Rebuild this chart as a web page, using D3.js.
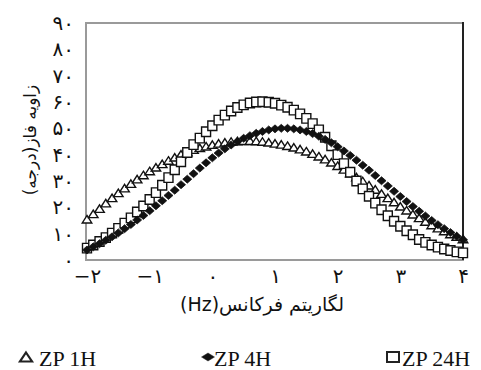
<!DOCTYPE html>
<html>
<head>
<meta charset="utf-8">
<script src="https://cdn.jsdelivr.net/npm/d3@7"></script>
<style>
  html, body { margin: 0; padding: 0; background: #fff; }
  svg { display: block; }
</style>
</head>
<body>
<svg id="chart" width="481" height="370"></svg>
<script>
// log10 of frequency (Hz), one sample every 0.1 decade
const logFreq = d3.range(-20, 41).map(i => i / 10);

// phase angle (degrees) for each coating time
const zp1H = [
  15.5, 17.5, 19.5, 21.6, 23.6, 25.5, 27.3, 29.0, 30.7, 32.3,
  33.8, 35.2, 36.5, 37.8, 39.0, 40.1, 41.0, 41.9, 42.6, 43.2,
  43.8, 44.3, 44.7, 45.0, 45.2, 45.3, 45.3, 45.2, 45.0, 44.7,
  44.3, 43.9, 43.4, 42.8, 42.1, 41.3, 40.4, 39.4, 38.3, 37.1,
  35.8, 34.4, 33.0, 31.5, 30.0, 28.4, 26.8, 25.2, 23.6, 22.0,
  20.4, 18.9, 17.4, 16.0, 14.6, 13.3, 12.1, 11.0, 9.9, 8.9,
  8.0
];
const zp4H = [
  3.8, 5.0, 6.2, 7.5, 8.8, 10.3, 11.9, 13.5, 15.2, 16.9,
  18.7, 20.6, 22.5, 24.5, 26.5, 28.6, 30.7, 32.8, 34.9, 36.9,
  38.8, 40.6, 42.2, 43.7, 45.0, 46.2, 47.2, 48.1, 48.8, 49.4,
  49.8, 50.0, 50.0, 49.8, 49.4, 48.8, 48.0, 47.0, 45.8, 44.5,
  43.0, 41.4, 39.7, 37.9, 36.0, 34.1, 32.1, 30.1, 28.1, 26.1,
  24.1, 22.2, 20.3, 18.5, 16.7, 15.0, 13.4, 11.9, 10.4, 9.0,
  7.7
];
const zp24H = [
  4.5, 5.7, 7.0, 8.5, 10.2, 12.0, 14.0, 16.0, 18.2, 20.5,
  23.0, 25.6, 28.4, 31.3, 34.3, 37.3, 40.8, 43.8, 46.3, 48.7,
  51.0, 53.1, 55.0, 56.6, 57.9, 58.9, 59.6, 60.0, 60.1, 59.9,
  59.5, 58.8, 58.0, 56.9, 55.5, 53.8, 51.8, 49.4, 46.6, 43.4,
  40.0, 36.6, 33.3, 30.0, 27.0, 24.2, 21.6, 19.1, 16.8, 14.7,
  12.8, 11.1, 9.6, 7.8, 6.7, 5.7, 4.9, 4.2, 3.6, 3.1,
  2.7
];

const seriesNames = ["ZP 1H", "ZP 4H", "ZP 24H"];
const xTicks = [-2, -1, 0, 1, 2, 3, 4];
const yTicks = [0, 10, 20, 30, 40, 50, 60, 70, 80, 90];
const xTitle = "لگاریتم فرکانس(Hz)";
const yTitle = "زاویه فاز(درجه)";

const persianDigits = "۰۱۲۳۴۵۶۷۸۹";
const toPersian = v => (v < 0 ? "−" : "") +
  String(Math.abs(v)).replace(/\d/g, d => persianDigits[+d]);

const svg = d3.select("#chart");
const plot = { left: 86, top: 23, right: 463, bottom: 260 };

const x = d3.scaleLinear().domain([-2, 4]).range([87, 463]);
const y = d3.scaleLinear().domain([0, 90]).range([plot.bottom, plot.top]);

const persianFont = "'DejaVu Sans', sans-serif";

// frame
svg.append("rect")
  .attr("x", plot.left).attr("y", plot.top)
  .attr("width", plot.right - plot.left).attr("height", plot.bottom - plot.top)
  .attr("fill", "none").attr("stroke", "#9a9a9a").attr("stroke-width", 2);
svg.append("line")
  .attr("x1", plot.right).attr("x2", plot.right)
  .attr("y1", plot.top - 1).attr("y2", plot.bottom)
  .attr("stroke", "#222").attr("stroke-width", 2);

// y axis labels
const yAxis = d3.axisLeft(y).tickValues(yTicks).tickSize(0).tickPadding(12)
  .tickFormat(toPersian);
svg.append("g").attr("transform", `translate(${plot.left},0)`).call(yAxis)
  .call(g => g.select(".domain").remove())
  .call(g => g.selectAll("text").attr("font-family", persianFont)
    .attr("font-size", 20).attr("fill", "#111"));

// x axis labels
const xAxis = d3.axisBottom(x).tickValues(xTicks).tickSize(0).tickPadding(9)
  .tickFormat(toPersian);
svg.append("g").attr("transform", `translate(0,${plot.bottom})`).call(xAxis)
  .call(g => g.select(".domain").remove())
  .call(g => g.selectAll("text").attr("font-family", persianFont)
    .attr("font-size", 20).attr("fill", "#111"));

// axis titles
svg.append("text")
  .attr("x", 262).attr("y", 311)
  .attr("text-anchor", "middle").attr("direction", "rtl")
  .attr("font-family", persianFont).attr("font-size", 19).attr("fill", "#111")
  .text(xTitle);
svg.append("text")
  .attr("transform", "translate(36,140) rotate(-90)")
  .attr("text-anchor", "middle").attr("direction", "rtl")
  .attr("font-family", persianFont).attr("font-size", 17).attr("fill", "#111")
  .text(yTitle);

// marker shapes
const triPath = (w, h) => `M0,${-h / 2}L${w / 2},${h / 2}L${-w / 2},${h / 2}Z`;
const diaPath = (w, h) => `M0,${-h / 2}L${w / 2},0L0,${h / 2}L${-w / 2},0Z`;
const sqPath = (w, h) => `M${-w / 2},${-h / 2}h${w}v${h}h${-w}Z`;

function drawSeries(values, path, fill, strokeWidth) {
  svg.append("g").selectAll("path")
    .data(values.map((v, i) => [logFreq[i], v]))
    .join("path")
    .attr("transform", d => `translate(${x(d[0])},${y(d[1])})`)
    .attr("d", path)
    .attr("fill", fill)
    .attr("stroke", "#111")
    .attr("stroke-width", strokeWidth);
}

drawSeries(zp1H, triPath(9.5, 7.5), "#fff", 1.4);
drawSeries(zp24H, sqPath(9, 9.5), "#fff", 1.4);
drawSeries(zp4H, diaPath(9, 8), "#111", 0.8);

// legend
const legend = [
  { name: seriesNames[0], cx: 26, path: triPath(12, 9), fill: "#fff", sw: 2.2, tx: 39 },
  { name: seriesNames[1], cx: 208, path: diaPath(13, 8), fill: "#111", sw: 0.5, tx: 214 },
  { name: seriesNames[2], cx: 393, path: sqPath(12, 10), fill: "#fff", sw: 2, tx: 402 }
];
const lg = svg.append("g");
legend.forEach(d => {
  lg.append("path").attr("transform", `translate(${d.cx},357)`)
    .attr("d", d.path).attr("fill", d.fill).attr("stroke", "#222")
    .attr("stroke-width", d.sw);
  lg.append("text").attr("x", d.tx).attr("y", 366)
    .attr("font-family", "'Liberation Serif', serif").attr("font-size", 22)
    .attr("fill", "#111").text(d.name);
});
</script>
</body>
</html>
